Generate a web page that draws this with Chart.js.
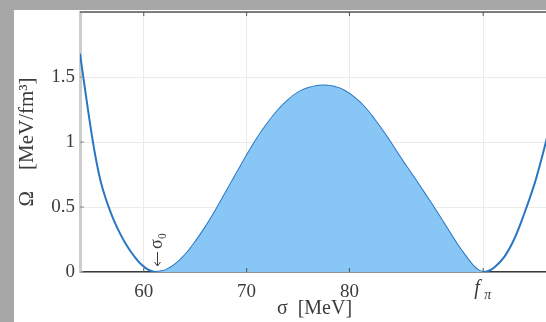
<!DOCTYPE html>
<html>
<head>
<meta charset="utf-8">
<script src="https://cdn.jsdelivr.net/npm/chart.js@4.4.1/dist/chart.umd.min.js"></script>
<style>
  html, body { margin: 0; padding: 0; background: #a7a7a7; overflow: hidden; width: 546px; height: 322px; }
  #frame { position: absolute; left: 14px; top: 10px; width: 532px; height: 312px; background: #fff; overflow: hidden; }
  #omegaChart { position: absolute; left: -14px; top: -10px; }
</style>
</head>
<body>
<div id="frame"><canvas id="omegaChart" width="560" height="322"></canvas></div>
<script>
// sigma in MeV, Omega in MeV/fm^3
var sigma = [53.8, 54.3, 54.8, 55.3, 55.8, 56.3, 56.8, 57.3, 57.8, 58.3, 58.8, 59.3, 59.8, 60.3, 60.8,
             61.2, 61.7, 62.2, 63.0, 64.0, 65.0, 66.0, 67.0, 68.0, 69.0, 70.0, 71.0, 72.0, 73.0, 74.0, 75.0,
             76.0, 77.0, 77.6, 78.5, 79.5, 80.5, 81.5, 82.5, 83.5, 84.5, 85.5, 86.5, 87.5, 88.5, 89.5, 90.5,
             91.5, 92.0, 92.5, 93.0, 93.5, 94.0, 95.0, 96.0, 97.0, 98.0, 98.5, 99.0, 99.5];
var omega = [1.68, 1.40, 1.13, 0.89, 0.70, 0.565, 0.455, 0.36, 0.28, 0.21, 0.15, 0.098, 0.055, 0.024, 0.006,
             0.0, 0.005, 0.017, 0.055, 0.13, 0.23, 0.345, 0.475, 0.615, 0.755, 0.895, 1.025, 1.14, 1.24, 1.32, 1.38,
             1.415, 1.432, 1.435, 1.425, 1.395, 1.34, 1.265, 1.165, 1.055, 0.935, 0.815, 0.70, 0.58, 0.46, 0.335, 0.21,
             0.10, 0.05, 0.015, 0.0, 0.008, 0.03, 0.11, 0.25, 0.45, 0.68, 0.82, 0.97, 1.13];
var sigma0 = 61.2;
var fPi = 93;
var xTicks = [60, 70, 80, fPi];
var yTicks = [0, 0.5, 1, 1.5, 2];

var curve = sigma.map(function (s, i) { return { x: s, y: omega[i] }; });
var well = curve.filter(function (p) { return p.x >= sigma0 && p.x <= fPi; });

var textColor = '#3c3c3c';
var serif = '"Liberation Serif", "DejaVu Serif", serif';

// extra bits: box top, inward ticks, sigma_0 marker and f_pi label
var decorations = {
    id: 'decorations',
    afterDraw: function (chart) {
        var ctx = chart.ctx;
        var area = chart.chartArea;
        var xs = chart.scales.x;
        var ys = chart.scales.y;
        ctx.save();
        ctx.strokeStyle = '#555';
        ctx.lineWidth = 1.5;
        ctx.beginPath();
        ctx.moveTo(area.left, area.top);
        ctx.lineTo(area.right, area.top);
        ctx.stroke();
        ctx.lineWidth = 1;
        xTicks.forEach(function (v) {
            var px = xs.getPixelForValue(v);
            ctx.beginPath();
            ctx.moveTo(px, area.bottom);
            ctx.lineTo(px, area.bottom - 4);
            ctx.moveTo(px, area.top);
            ctx.lineTo(px, area.top + 4);
            ctx.stroke();
        });
        ctx.strokeStyle = '#888';
        yTicks.forEach(function (v) {
            var py = ys.getPixelForValue(v);
            ctx.beginPath();
            ctx.moveTo(area.left, py);
            ctx.lineTo(area.left + 4, py);
            ctx.stroke();
        });

        // sigma_0 marker: arrow pointing down to the minimum, label above it
        var sx = Math.round(xs.getPixelForValue(sigma0)) + 1.5;
        ctx.strokeStyle = textColor;
        ctx.fillStyle = textColor;
        ctx.lineWidth = 1;
        ctx.beginPath();
        ctx.moveTo(sx, 252);
        ctx.lineTo(sx, 266);
        ctx.moveTo(sx - 3, 262);
        ctx.lineTo(sx, 266);
        ctx.lineTo(sx + 3, 262);
        ctx.stroke();
        ctx.font = '18px ' + serif;
        ctx.textAlign = 'left';
        ctx.textBaseline = 'middle';
        ctx.translate(sx, 249);
        ctx.rotate(-Math.PI / 2);
        ctx.fillText('\u03c3\u2080', 0, 0);
        ctx.restore();

        // f_pi tick label
        ctx.save();
        ctx.fillStyle = textColor;
        ctx.textBaseline = 'alphabetic';
        ctx.textAlign = 'left';
        var fx = xs.getPixelForValue(fPi);
        ctx.font = 'italic 20px ' + serif;
        ctx.fillText('f', fx - 9, 294);
        ctx.font = 'italic 14px ' + serif;
        ctx.fillText('\u03c0', fx + 1, 299);
        ctx.restore();
    }
};

var ctxOmega = document.getElementById('omegaChart').getContext('2d');
var omegaChart = new Chart(ctxOmega, {
    type: 'line',
    data: {
        datasets: [{
            data: well,
            borderWidth: 0,
            borderColor: 'rgba(0,0,0,0)',
            backgroundColor: 'rgb(135, 198, 245)',
            fill: 'origin',
            pointRadius: 0,
            tension: 0.4
        }, {
            data: curve,
            borderColor: 'rgb(42, 118, 195)',
            borderWidth: 2,
            fill: false,
            pointRadius: 0,
            tension: 0.4
        }]
    },
    options: {
        responsive: false,
        animation: false,
        layout: { padding: { left: 0, top: 12, right: 11, bottom: 0 } },
        plugins: {
            legend: { display: false },
            tooltip: { enabled: false }
        },
        scales: {
            x: {
                type: 'linear',
                min: 53.8,
                max: 99.4,
                afterBuildTicks: function (scale) {
                    scale.ticks = xTicks.map(function (v) { return { value: v }; });
                },
                afterFit: function (scale) {
                    scale.height = 50;
                    scale.paddingLeft = 0;
                    scale.paddingRight = 0;
                },
                grid: { color: '#ebebeb', drawTicks: false },
                border: { color: '#3a3a3a', width: 1.5 },
                ticks: {
                    padding: 9,
                    color: textColor,
                    font: { family: serif, size: 19 },
                    maxRotation: 0,
                    callback: function (v) { return v === fPi ? '' : String(v); }
                },
                title: {
                    display: true,
                    text: '\u03c3\u2002[MeV]',
                    color: textColor,
                    font: { family: serif, size: 20 },
                    padding: { top: 0, bottom: 1 }
                }
            },
            y: {
                min: 0,
                max: 2,
                afterBuildTicks: function (scale) {
                    scale.ticks = yTicks.map(function (v) { return { value: v }; });
                },
                afterFit: function (scale) {
                    scale.width = 80;
                    scale.paddingTop = 0;
                    scale.paddingBottom = 0;
                },
                grid: { color: '#ebebeb', drawTicks: false },
                border: { color: '#cdcdcd', width: 3 },
                ticks: {
                    padding: 5,
                    color: textColor,
                    font: { family: serif, size: 19 },
                    callback: function (v) { return v === 2 ? '' : String(v); }
                },
                title: {
                    display: true,
                    text: '\u03a9\u2003[MeV/fm\u00b3]',
                    color: textColor,
                    font: { family: serif, size: 21 },
                    padding: { top: 15, bottom: 0 }
                }
            }
        }
    },
    plugins: [decorations]
});
</script>
</body>
</html>
